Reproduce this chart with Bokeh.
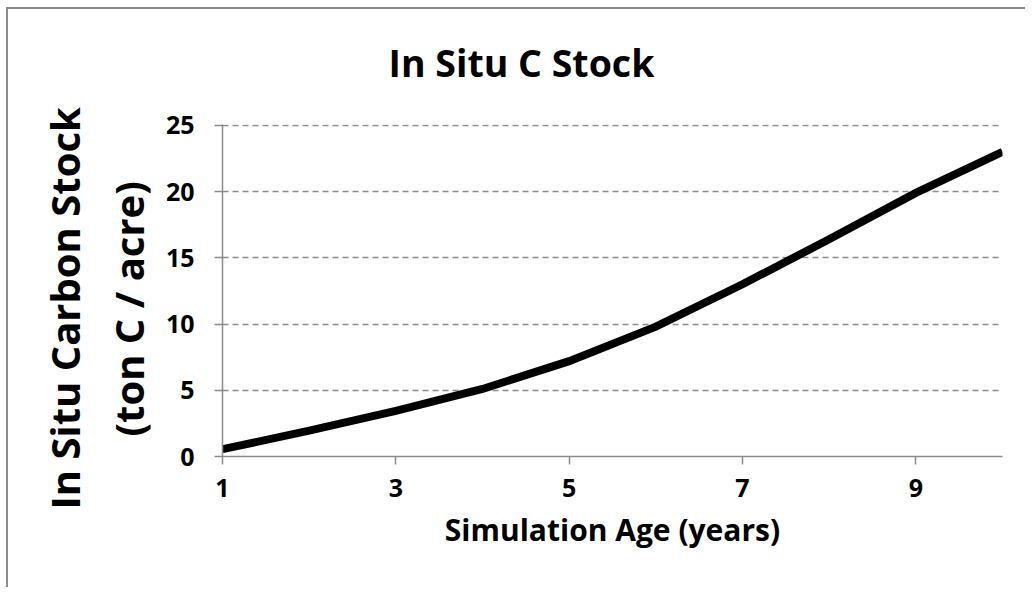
from bokeh.plotting import figure
from bokeh.models import Range1d, FixedTicker, Title
from bokeh.embed import file_html
from bokeh.resources import INLINE

years = [1, 2, 3, 4, 5, 6, 7, 8, 9, 10]
carbon_stock = [0.55, 1.95, 3.45, 5.1, 7.2, 9.8, 13.0, 16.4, 19.9, 23.0]
x_ticks = [1, 3, 5, 7, 9]
y_ticks = [0, 5, 10, 15, 20, 25]

FONT = "Open Sans"
GRAY = "#8c8c8c"

p = figure(width=1019, height=580, output_backend="svg", toolbar_location=None,
           x_range=Range1d(1, 10), y_range=Range1d(0, 25.06),
           min_border_left=214, min_border_right=25, min_border_top=114, min_border_bottom=133)
p.styles = {"margin-left": "6px", "margin-top": "7px",
            "border-left": "2px solid #8c8c8c", "border-top": "2px solid #8c8c8c"}
p.outline_line_color = None
p.background_fill_color = "white"
p.border_fill_color = "white"

p.line(years, carbon_stock, line_color="black", line_width=8, line_join="miter")

p.xgrid.visible = False
p.ygrid.grid_line_color = GRAY
p.ygrid.grid_line_width = 1.5
p.ygrid.grid_line_dash = "6 4"

p.xaxis.ticker = FixedTicker(ticks=x_ticks)
p.yaxis.ticker = FixedTicker(ticks=y_ticks)
for ax in (p.xaxis[0], p.yaxis[0]):
    ax.axis_line_color = GRAY
    ax.axis_line_width = 1.5
    ax.major_tick_line_color = GRAY
    ax.major_tick_line_width = 1.5
    ax.major_tick_out = 8
    ax.major_tick_in = 0
    ax.minor_tick_line_color = None
    ax.major_label_text_font = FONT
    ax.major_label_text_font_style = "bold"
    ax.major_label_text_font_size = "25px"
    ax.major_label_text_color = "black"
p.yaxis.major_label_standoff = 20
p.xaxis.major_label_standoff = 14

p.xaxis.axis_label = "Simulation Age (years)"
p.xaxis.axis_label_text_font = FONT
p.xaxis.axis_label_text_font_style = "bold"
p.xaxis.axis_label_text_font_size = "30px"
p.xaxis.axis_label_text_color = "black"
p.xaxis.axis_label_standoff = 9

main_title = Title(text="In Situ C Stock\n ", align="left", offset=166, standoff=50,
                   text_line_height=0.23,
                   text_font=FONT, text_font_style="bold", text_font_size="37.5px",
                   text_color="black")
p.add_layout(main_title, "above")

yl2 = Title(text="(ton C / acre)", align="left", offset=20, standoff=14,
            text_font=FONT, text_font_style="bold", text_font_size="40px", text_color="black")
yl1 = Title(text="In Situ Carbon Stock", align="left", offset=-53, standoff=0,
            text_font=FONT, text_font_style="bold", text_font_size="40px", text_color="black")
p.add_layout(yl2, "left")
p.add_layout(yl1, "left")

open("out.html", "w").write(file_html(p, INLINE))
